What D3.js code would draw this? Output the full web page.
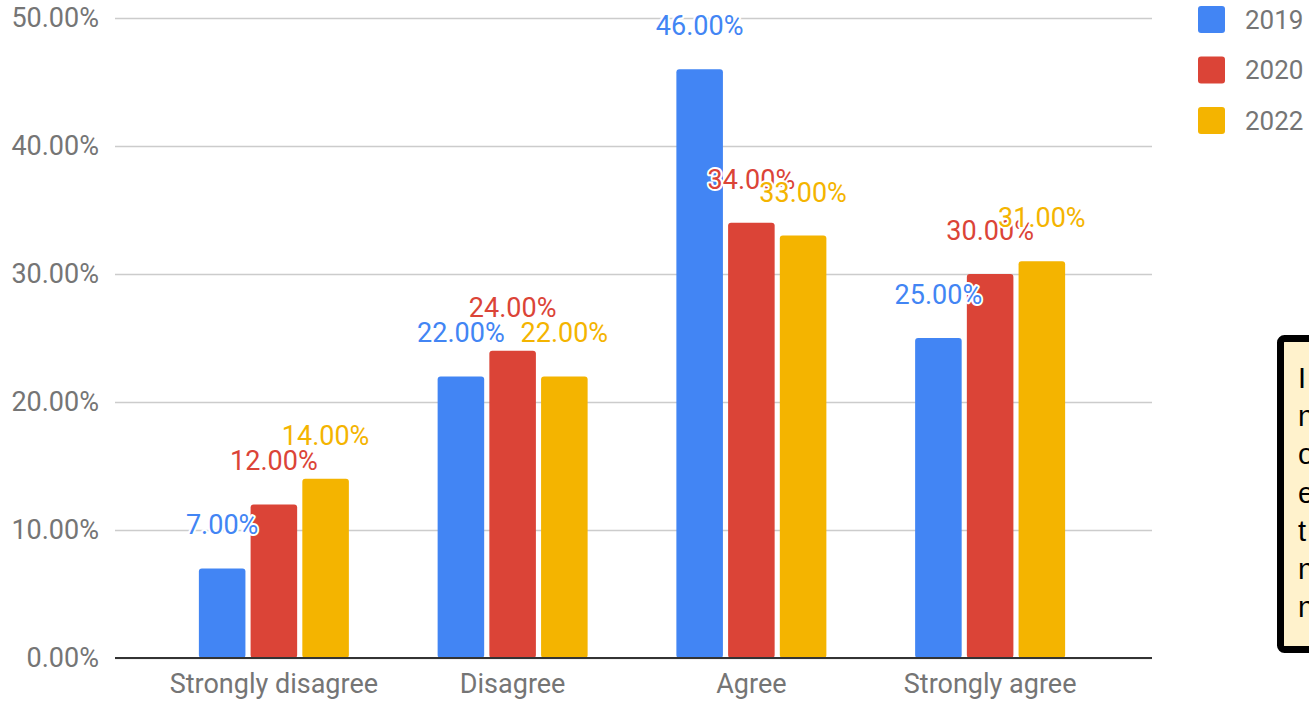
<!DOCTYPE html>
<html>
<head>
<meta charset="utf-8">
<script src="https://cdn.jsdelivr.net/npm/d3@7"></script>
<style>
  html, body { margin: 0; padding: 0; background: #fff; overflow: hidden; }
  svg { display: block; }
</style>
</head>
<body>
<svg id="chart" width="1309" height="701"></svg>
<script>
var categories = ["Strongly disagree", "Disagree", "Agree", "Strongly agree"];
var seriesNames = ["2019", "2020", "2022"];
var values2019 = [7, 22, 46, 25];
var values2020 = [12, 24, 34, 30];
var values2022 = [14, 22, 33, 31];
var yTicks = [0, 10, 20, 30, 40, 50];
var noteLines = ["I believe", "nearly", "opinions", "evolved", "t", "new", "norms"];

var kleuren = ["#4285f4", "#db4437", "#f4b400"];
var allValues = [values2019, values2020, values2022];

var svg = d3.select("#chart");

var yScale = d3.scaleLinear().domain([0, 50]).range([658, 18]);
var xScale = d3.scaleBand().domain(categories).range([154.5, 1109.5]);
var innerScale = d3.scaleBand().domain(seriesNames).range([-75, 75]).paddingInner(0.1);
var fmt = function(v){ return d3.format(".2f")(v) + "%"; };

// gridlines + y labels
var yAxis = d3.axisLeft(yScale).tickValues(yTicks).tickFormat(fmt).tickSize(-1037).tickPadding(16);
var yG = svg.append("g").attr("transform", "translate(115,0)").call(yAxis);
yG.select(".domain").remove();
yG.selectAll(".tick line").attr("stroke", "#cccccc").attr("stroke-width", 1.5);
yG.selectAll(".tick text")
	.attr("fill", "#757575")
	.style("font-family", "Roboto, sans-serif")
	.style("font-size", "27px");

// bars
var groups = svg.append("g");
seriesNames.forEach(function(naam, i){
	groups.selectAll(".bar" + i)
		.data(allValues[i])
		.enter()
		.append("rect")
		.attr("x", function(d, j){ return xScale(categories[j]) + xScale.bandwidth() / 2 + innerScale(naam); })
		.attr("y", function(d){ return yScale(d); })
		.attr("width", innerScale.bandwidth())
		.attr("height", function(d){ return yScale(0) - yScale(d); })
		.attr("rx", 3)
		.attr("fill", kleuren[i]);
});

// baseline
svg.append("line")
	.attr("x1", 115).attr("x2", 1152)
	.attr("y1", yScale(0)).attr("y2", yScale(0))
	.attr("stroke", "#333").attr("stroke-width", 2);

// x labels
var xAxis = d3.axisBottom(xScale).tickSize(0).tickPadding(16);
var xG = svg.append("g").attr("transform", "translate(0," + yScale(0) + ")").call(xAxis);
xG.select(".domain").remove();
xG.selectAll(".tick text")
	.attr("fill", "#757575")
	.style("font-family", "Roboto, sans-serif")
	.style("font-size", "27px");

// value labels
seriesNames.forEach(function(naam, i){
	svg.append("g").selectAll("text")
		.data(allValues[i])
		.enter()
		.append("text")
		.attr("x", function(d, j){ return xScale(categories[j]) + xScale.bandwidth() / 2 + innerScale(naam) + innerScale.bandwidth() / 2; })
		.attr("y", function(d){ return yScale(d) - 34; })
		.attr("text-anchor", "middle")
		.attr("fill", kleuren[i])
		.attr("stroke", "#fff")
		.attr("stroke-width", 4)
		.attr("paint-order", "stroke")
		.attr("stroke-linejoin", "round")
		.style("font-family", "Roboto, sans-serif")
		.style("font-size", "27px")
		.text(fmt);
});

// legend
var legend = svg.append("g").selectAll("g")
	.data(seriesNames)
	.enter()
	.append("g")
	.attr("transform", function(d, i){ return "translate(1198," + (6 + i * 50.5) + ")"; });
legend.append("rect")
	.attr("width", 27).attr("height", 27).attr("rx", 3)
	.attr("fill", function(d, i){ return kleuren[i]; });
legend.append("text")
	.attr("x", 47).attr("y", 22.5)
	.attr("fill", "#757575")
	.style("font-family", "Roboto, sans-serif")
	.style("font-size", "26px")
	.text(function(d){ return d; });

// note box (cut off at the right edge)
svg.append("rect")
	.attr("x", 1280.5).attr("y", 338.5)
	.attr("width", 120).attr("height", 311)
	.attr("rx", 4)
	.attr("fill", "#fff2cc")
	.attr("stroke", "#000")
	.attr("stroke-width", 7);
svg.append("g").selectAll("text")
	.data(noteLines)
	.enter()
	.append("text")
	.attr("x", 1298)
	.attr("y", function(d, i){ return 388 + i * 38.2; })
	.attr("fill", "#000")
	.style("font-family", "'Liberation Sans', Arial, sans-serif")
	.style("font-size", "29px")
	.text(function(d){ return d; });
</script>
</body>
</html>
